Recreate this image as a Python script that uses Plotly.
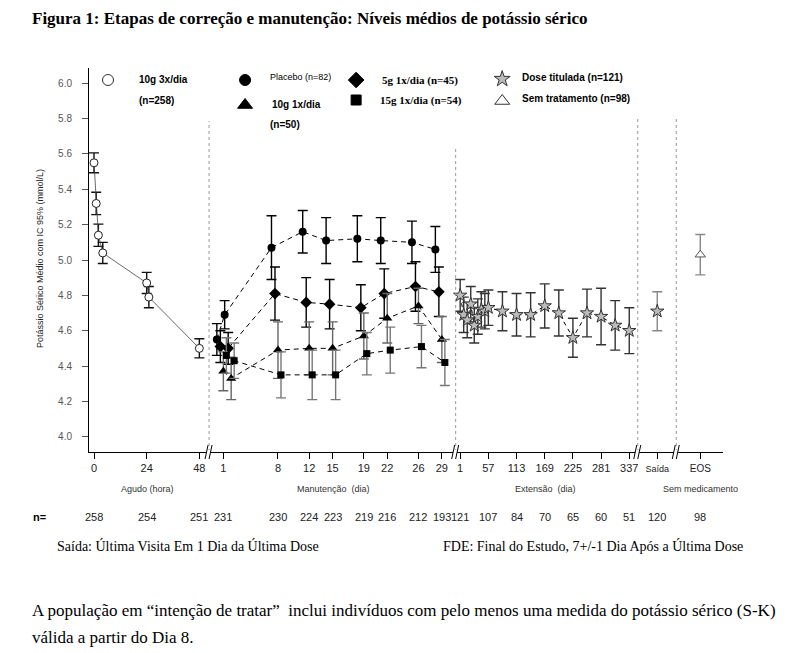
import plotly.graph_objects as go

# ---------------- data ----------------
acute_hours = [0, 1, 2, 4, 24, 25, 48]
acute_mean = [5.55, 5.32, 5.14, 5.04, 4.87, 4.79, 4.50]
acute_ci = [0.056, 0.063, 0.063, 0.06, 0.06, 0.06, 0.054]

maint_days = [1, 2, 8, 12, 15, 19, 22, 26, 29]
placebo_mean = [4.55, 4.69, 5.07, 5.16, 5.11, 5.12, 5.11, 5.10, 5.06]
placebo_ci = [0.09, 0.08, 0.18, 0.12, 0.13, 0.13, 0.13, 0.12, 0.13]
g5_mean = [4.51, 4.50, 4.81, 4.76, 4.75, 4.73, 4.81, 4.85, 4.82]
g5_ci = [0.09, 0.09, 0.15, 0.14, 0.14, 0.13, 0.14, 0.14, 0.14]
g10_mean = [4.37, 4.33, 4.49, 4.50, 4.50, 4.57, 4.67, 4.74, 4.55]
g10_ci = [0.11, 0.12, 0.16, 0.15, 0.15, 0.13, 0.14, 0.10, 0.13]
g15_mean = [4.46, 4.43, 4.35, 4.35, 4.35, 4.47, 4.49, 4.51, 4.42]
g15_ci = [0.10, 0.10, 0.13, 0.14, 0.14, 0.12, 0.13, 0.12, 0.13]

ext_days = [1, 8, 15, 22, 29, 36, 43, 50, 57, 85, 113, 141, 169, 197, 225, 253, 281, 309, 337]
titr_mean = [4.80, 4.69, 4.66, 4.75, 4.63, 4.68, 4.72, 4.71, 4.73, 4.71, 4.69, 4.69,
             4.74, 4.70, 4.56, 4.70, 4.68, 4.63, 4.60]
titr_ci = [0.09, 0.10, 0.10, 0.10, 0.10, 0.10, 0.10, 0.10, 0.10, 0.11, 0.12, 0.125,
           0.125, 0.13, 0.11, 0.135, 0.16, 0.14, 0.13]

exit_mean, exit_ci = 4.71, 0.11
eos_mean, eos_ci = 5.03, 0.114

acute_ticks = [0, 24, 48]
maint_ticks = [1, 8, 12, 15, 19, 22, 26, 29]
ext_ticks = [1, 57, 113, 169, 225, 281, 337]
n_at_risk = [258, 254, 251, 231, 230, 224, 223, 219, 216, 212, 193, 121, 107, 84, 70, 65, 60, 51, 120, 98]

# ---------------- broken-axis scale (layout) ----------------
def pos_acute(h):
    return 94 + h * 105.3 / 48

def pos_maint(d):
    return 223.3 + (d - 1) * 7.8

def pos_ext(d):
    return 460 + (d - 1) * 169 / 336

POS_EXIT = 657
POS_EOS = 700
BREAKS = [209, 455.5, 637.5, 676]

X0, X1 = 89, 722.7
T, B = 68, 452
W, H = 798, 653

def py(p):  # pixel row -> paper y
    return (B - p) / (B - T)

def px(p):  # pixel col -> paper x
    return (p - X0) / (X1 - X0)

fig = go.Figure()

# acute
fig.add_trace(go.Scatter(
    x=[pos_acute(h) for h in acute_hours], y=acute_mean, mode="lines+markers",
    line=dict(color="#444", width=0.8),
    marker=dict(symbol="circle", size=8, color="white", line=dict(color="#222", width=1)),
    error_y=dict(type="data", array=acute_ci, visible=True, thickness=1.4, width=5, color="#111"),
    showlegend=False))

groups = [
    (placebo_mean, placebo_ci, -6.5, "circle", 8, "#000"),
    (g5_mean, g5_ci, -3, "diamond", 9, "#000"),
    (g10_mean, g10_ci, 0, "triangle-up", 9, "#666"),
    (g15_mean, g15_ci, 3, "square", 7, "#777"),
]
for mean, ci, off, sym, sz, ecol in groups:
    fig.add_trace(go.Scatter(
        x=[pos_maint(d) + off for d in maint_days], y=mean, mode="lines+markers",
        line=dict(color="#000", width=1, dash="5px,4px"),
        marker=dict(symbol=sym, size=sz, color="#000"),
        error_y=dict(type="data", array=ci, visible=True, thickness=1.4, width=5, color=ecol),
        showlegend=False))

fig.add_trace(go.Scatter(
    x=[pos_ext(d) for d in ext_days], y=titr_mean, mode="lines+markers",
    line=dict(color="#000", width=1, dash="4px,4px"),
    marker=dict(symbol="star", size=10, color="#bbb", line=dict(color="#333", width=1)),
    error_y=dict(type="data", array=titr_ci, visible=True, thickness=1.4, width=5, color="#333"),
    showlegend=False))

fig.add_trace(go.Scatter(
    x=[POS_EXIT], y=[exit_mean], mode="markers",
    marker=dict(symbol="star", size=10, color="#bbb", line=dict(color="#333", width=1)),
    error_y=dict(type="data", array=[exit_ci], visible=True, thickness=1.4, width=5, color="#888"),
    showlegend=False))

fig.add_trace(go.Scatter(
    x=[POS_EOS], y=[eos_mean], mode="markers",
    marker=dict(symbol="triangle-up", size=9, color="white", line=dict(color="#555", width=1)),
    error_y=dict(type="data", array=[eos_ci], visible=True, thickness=1.4, width=5, color="#888"),
    showlegend=False))

# ---------------- axes ----------------
tickvals = ([pos_acute(h) for h in acute_ticks] + [pos_maint(d) for d in maint_ticks] +
            [pos_ext(d) for d in ext_ticks] + [POS_EXIT, POS_EOS])
ticktext = ([str(h) for h in acute_ticks] + [str(d) for d in maint_ticks] +
            [str(d) for d in ext_ticks] +
            ["<span style='font-size:9px'>Saída</span>", "<span style='font-size:10px'>EOS</span>"])

yfrom = lambda p: 6.0 - (p - 83.3) / 176.7

fig.update_xaxes(range=[X0, X1], showgrid=False, zeroline=False, showline=True,
                 linecolor="#000", linewidth=1, ticks="outside", ticklen=6, tickcolor="#000",
                 tickvals=tickvals, ticktext=ticktext,
                 tickfont=dict(family="Liberation Sans, Arial", size=11, color="#222"))
fig.update_yaxes(range=[yfrom(B), yfrom(T)], showgrid=False, zeroline=False, showline=True,
                 linecolor="#000", linewidth=1, ticks="outside", ticklen=6, tickcolor="#555",
                 tickvals=[4.0 + 0.2 * i for i in range(11)], tickformat=".1f",
                 ticklabelstandoff=8,
                 tickfont=dict(family="Liberation Sans, Arial", size=10, color="#555"))

shapes = []
tops = [121, 146, 117, 117]
for bx, tp in zip(BREAKS, tops):
    shapes.append(dict(type="line", xref="x", yref="paper", x0=bx, x1=bx, y0=py(B), y1=py(tp),
                       line=dict(color="#999", width=1, dash="dot")))
    shapes.append(dict(type="rect", xref="x", yref="paper", x0=bx - 2.5, x1=bx + 1.5,
                       y0=py(454), y1=py(450), fillcolor="white", line=dict(width=0)))
    for dx in (-4, 0):
        shapes.append(dict(type="line", xref="x", yref="paper", x0=bx + dx, x1=bx + dx + 3,
                           y0=py(459), y1=py(445), line=dict(color="#000", width=1)))

ann = []
def text(x, y, s, size=11, family="Liberation Sans, Arial", color="#000", anchor="left",
         xref="x", bold=False, **kw):
    if bold:
        s = "<b>" + s + "</b>"
    ann.append(dict(x=x, y=py(y), xref=xref, yref="paper", text=s, showarrow=False,
                    xanchor=anchor, yanchor="middle",
                    font=dict(family=family, size=size, color=color), **kw))

# legend markers (decorations)
leg = [
    (108, 80, "circle", 11, "white", "#333"),
    (245, 80, "circle", 11, "#000", "#000"),
    (245, 105, "triangle-up", 13, "#000", "#000"),
    (356, 80, "diamond", 12, "#000", "#000"),
    (356, 100, "square", 10, "#000", "#000"),
    (502, 79, "star", 12, "#bbb", "#333"),
    (502, 101, "triangle-up", 13, "white", "#333"),
]
for lx, ly, sym, sz, fc, lc in leg:
    fig.add_trace(go.Scatter(x=[lx], y=[yfrom(ly)], mode="markers", showlegend=False,
                             hoverinfo="skip", cliponaxis=False,
                             marker=dict(symbol=sym, size=sz, color=fc, line=dict(color=lc, width=1))))

text(137, 79, "10g 3x/dia", size=10, bold=True)
text(137, 100, "(n=258)", size=10, bold=True)
text(268, 77, "Placebo (n=82)", size=9)
text(270, 104, "10g 1x/dia", size=10, bold=True)
text(268, 124, "(n=50)", size=10, bold=True)
text(380, 80, "5g 1x/dia (n=45)", size=11, family="Liberation Serif, Times New Roman", bold=True)
text(378, 100, "15g 1x/dia (n=54)", size=11, family="Liberation Serif, Times New Roman", bold=True)
text(520, 78, "Dose titulada (n=121)", size=10, bold=True)
text(520, 99, "Sem tratamento (n=98)", size=10, bold=True)

# segment labels
text(147, 489, "Agudo (hora)", size=9, color="#333", anchor="center")
text(333, 489, "Manutenção  (dia)", size=9, color="#333", anchor="center")
text(545, 489, "Extensão  (dia)", size=9, color="#333", anchor="center")
text(700, 489, "Sem medicamento", size=9, color="#333", anchor="center")

# n row
text(px(40), 517, "n=", size=11, bold=True, anchor="center", xref="paper")
for v, tx in zip(n_at_risk, tickvals):
    text(tx, 517, str(v), size=11, color="#222", anchor="center")

# y title
ann.append(dict(x=px(33), y=py(258), xref="paper", yref="paper", textangle=-90,
                text="Potássio Sérico Médio com IC 95% (mmol/L)", showarrow=False,
                font=dict(family="Liberation Sans, Arial", size=9, color="#222")))

serif = "Liberation Serif, Times New Roman"
ann.append(dict(x=px(30), y=py(18), xref="paper", yref="paper", xanchor="left", yanchor="middle",
                text="<b>Figura 1: Etapas de correção e manutenção: Níveis médios de potássio sérico</b>",
                showarrow=False, font=dict(family=serif, size=17, color="#000")))
ann.append(dict(x=px(55), y=py(546), xref="paper", yref="paper", xanchor="left", yanchor="middle",
                text="Saída: Última Visita Em 1 Dia da Última Dose", showarrow=False,
                font=dict(family=serif, size=14, color="#000")))
ann.append(dict(x=px(441), y=py(546), xref="paper", yref="paper", xanchor="left", yanchor="middle",
                text="FDE: Final do Estudo, 7+/-1 Dia Após a Última Dose", showarrow=False,
                font=dict(family=serif, size=14, color="#000")))
ann.append(dict(x=px(30), y=py(610), xref="paper", yref="paper", xanchor="left", yanchor="middle",
                text="A população em “intenção de tratar”  inclui indivíduos com pelo menos uma medida do potássio sérico (S-K)",
                showarrow=False, font=dict(family=serif, size=17, color="#000")))
ann.append(dict(x=px(30), y=py(637), xref="paper", yref="paper", xanchor="left", yanchor="middle",
                text="válida a partir do Dia 8.", showarrow=False,
                font=dict(family=serif, size=17, color="#000")))

fig.update_layout(width=W, height=H, margin=dict(l=X0, r=W - X1, t=T, b=H - B),
                  plot_bgcolor="white", paper_bgcolor="white", shapes=shapes, annotations=ann,
                  showlegend=False)

fig.write_html("out.html", config={"displayModeBar": False},
               post_script="document.body.style.margin='0px';")
